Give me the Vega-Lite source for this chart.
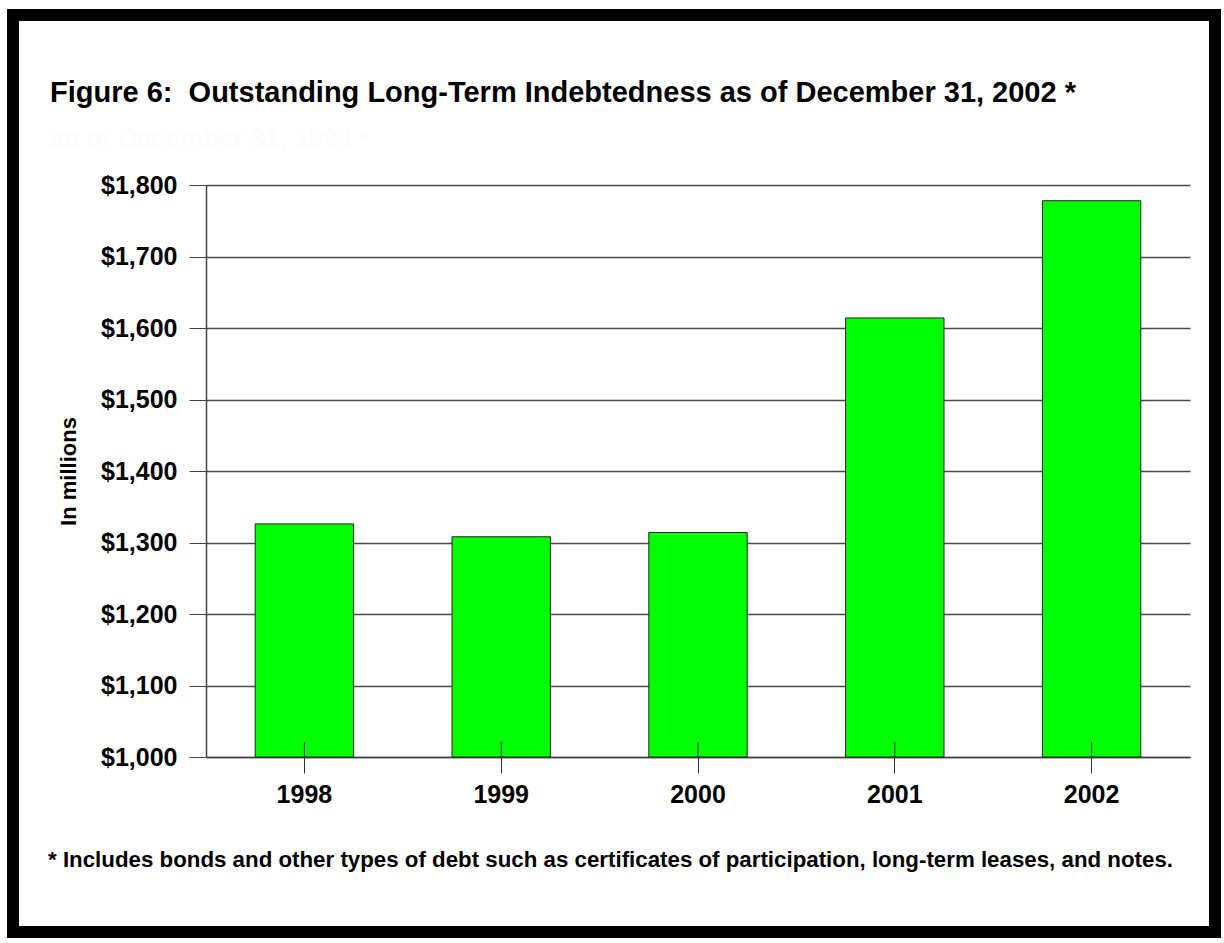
{
  "$schema": "https://vega.github.io/schema/vega-lite/v6.json",
  "width": 1202,
  "height": 917,
  "autosize": "none",
  "padding": {"left": 13, "top": 15, "right": 9, "bottom": 11},
  "background": "white",
  "title": {
    "text": "Figure 6:\u00a0 Outstanding Long-Term Indebtedness as of December 31, 2002 *",
    "subtitle": "as of December 31, 1999 *",
    "anchor": "start",
    "frame": "group",
    "dx": 37,
    "offset": -137,
    "font": "Liberation Sans",
    "fontSize": 29,
    "fontWeight": "bold",
    "color": "black",
    "subtitleFont": "Liberation Sans",
    "subtitleFontSize": 26,
    "subtitleFontWeight": "bold",
    "subtitleColor": "#fcfcfc",
    "subtitlePadding": 18
  },
  "config": {
    "view": {"stroke": "black", "strokeWidth": 12},
    "font": "Liberation Sans"
  },
  "data": {
    "values": [
      {"year": "1998", "debt": 1326},
      {"year": "1999", "debt": 1308},
      {"year": "2000", "debt": 1314},
      {"year": "2001", "debt": 1614},
      {"year": "2002", "debt": 1778}
    ]
  },
  "encoding": {
    "x": {
      "field": "year",
      "type": "nominal",
      "scale": {"range": [193, 1177], "paddingInner": 0.5, "paddingOuter": 0.25},
      "axis": {
        "title": "* Includes bonds and other types of debt such as certificates of participation, long-term leases, and notes.",
        "titleX": 597,
        "titleY": 102,
        "titleAlign": "center",
        "titleBaseline": "middle",
        "titleFontSize": 22.3,
        "titleFontWeight": "bold",
        "titleColor": "black",
        "labelAngle": 0,
        "labelFontSize": 25,
        "labelFontWeight": "bold",
        "labelColor": "black",
        "labelPadding": 9,
        "tickSize": 16,
        "tickColor": "#333",
        "domainColor": "#444",
        "domainWidth": 1.5,
        "grid": false,
        "offset": -175
      }
    }
  },
  "layer": [
    {
      "mark": {"type": "bar", "fill": "#00ff00", "stroke": "#222", "strokeWidth": 1},
      "encoding": {
        "y": {
          "field": "debt",
          "type": "quantitative",
          "scale": {"domain": [1000, 1800], "range": [742, 170], "zero": false, "nice": false},
          "axis": {
            "title": "In millions",
            "values": [1000, 1100, 1200, 1300, 1400, 1500, 1600, 1700, 1800],
            "format": "$,.0f",
            "labelFontSize": 25,
            "labelFontWeight": "bold",
            "labelColor": "black",
            "labelPadding": 12,
            "tickSize": 17,
            "tickColor": "#444",
            "domainColor": "#444",
            "domainWidth": 1.5,
            "grid": true,
            "gridColor": "#4a4a4a",
            "gridWidth": 1.3,
            "offset": -193,
            "titleFontSize": 22,
            "titleFontWeight": "bold",
            "titleColor": "black",
            "titlePadding": 20
          }
        },
        "y2": {"datum": 1000}
      }
    },
    {
      "mark": {"type": "rule", "color": "#333", "strokeWidth": 1},
      "encoding": {
        "y": {"datum": 1000},
        "y2": {"datum": 1021}
      }
    }
  ]
}
